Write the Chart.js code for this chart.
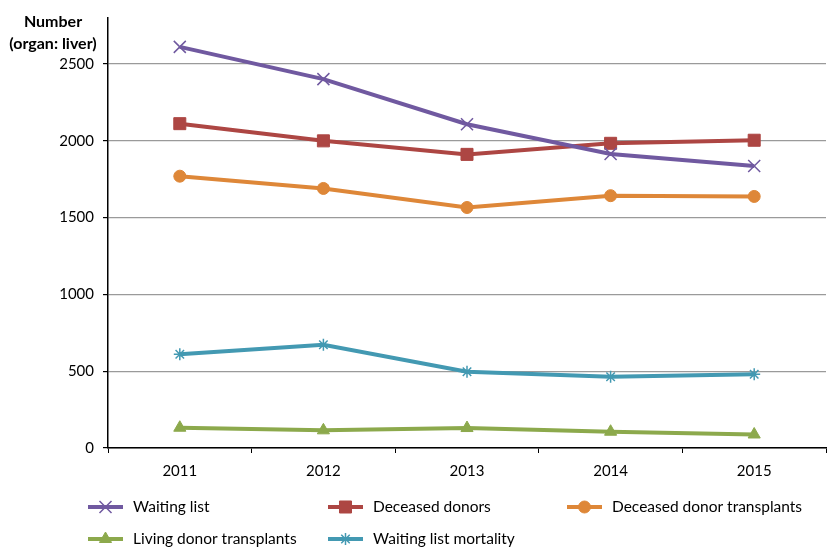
<!DOCTYPE html>
<html>
<head>
<meta charset="utf-8">
<script src="https://cdn.jsdelivr.net/npm/chart.js@4.4.0/dist/chart.umd.min.js"></script>
<style>
	html, body { margin: 0; padding: 0; background: #fff; overflow: hidden; }
	#wrap { width: 836px; height: 547px; }
</style>
</head>
<body>
<div id="wrap"><canvas id="line-chart"></canvas></div>
<script>
var years = ['2011', '2012', '2013', '2014', '2015'];
var yTicks = [0, 500, 1000, 1500, 2000, 2500];

var waitingList = [2612, 2402, 2108, 1915, 1836];
var deceasedDonors = [2112, 2000, 1912, 1984, 2004];
var deceasedTransplants = [1770, 1690, 1566, 1643, 1638];
var livingTransplants = [132, 115, 130, 106, 88];
var listMortality = [610, 672, 497, 464, 480];

var FONT = 'Lato, "Liberation Sans", sans-serif';

function series(label, data, color, style, radius) {
	return {
		label: label,
		data: data,
		borderColor: color,
		backgroundColor: color,
		borderWidth: 4,
		pointStyle: style,
		pointRadius: radius,
		pointHoverRadius: radius,
		pointBorderWidth: (style == 'crossRot' || style == 'star') ? 1.5 : 1,
		pointBorderColor: color,
		pointBackgroundColor: color,
		fill: false,
		tension: 0
	};
}

// legend laid out in a fixed grid under the axis, plus the y axis caption
var extras = {
	id: 'extras',
	afterDraw: function(chart) {
		var ctx = chart.ctx;
		var cols = [88, 328, 567];
		var rows = [507, 539];
		ctx.save();
		chart.data.datasets.forEach(function(ds, i) {
			var x = cols[i % 3];
			var y = rows[Math.floor(i / 3)];
			ctx.strokeStyle = ds.borderColor;
			ctx.fillStyle = ds.borderColor;
			ctx.lineWidth = 4;
			ctx.beginPath();
			ctx.moveTo(x, y);
			ctx.lineTo(x + 35, y);
			ctx.stroke();
			ctx.lineWidth = ds.pointBorderWidth;
			Chart.helpers.drawPoint(ctx, {
				pointStyle: ds.pointStyle,
				radius: ds.pointRadius,
				borderWidth: ds.pointBorderWidth,
				rotation: 0
			}, x + 17.5, y);
			ctx.fillStyle = '#000';
			ctx.font = '15.5px ' + FONT;
			ctx.textAlign = 'left';
			ctx.textBaseline = 'middle';
			ctx.fillText(ds.label, x + 45, y);
		});
		ctx.font = 'bold 16px ' + FONT;
		ctx.textAlign = 'center';
		ctx.fillStyle = '#000';
		ctx.fillText('Number', 53, 22);
		ctx.fillText('(organ: liver)', 53, 44);
		ctx.restore();
	}
};

new Chart(document.getElementById('line-chart'), {
	type: 'line',
	data: {
		labels: years,
		datasets: [
			series('Waiting list', waitingList, '#7059A0', 'crossRot', 8.5),
			series('Deceased donors', deceasedDonors, '#AD4643', 'rect', 8.5),
			series('Deceased donor transplants', deceasedTransplants, '#DE8738', 'circle', 6),
			series('Living donor transplants', livingTransplants, '#8CA94C', 'triangle', 7),
			series('Waiting list mortality', listMortality, '#4399B2', 'star', 6)
		]
	},
	options: {
		responsive: true,
		maintainAspectRatio: false,
		animation: false,
		layout: { padding: { top: 18, left: 0, right: 0, bottom: 0 } },
		plugins: {
			legend: { display: false },
			title: { display: false },
			tooltip: { enabled: false }
		},
		scales: {
			x: {
				offset: true,
				grid: {
					offset: true,
					drawOnChartArea: false,
					drawTicks: true,
					tickLength: 5,
					tickColor: '#000'
				},
				border: { color: '#000', width: 1.5 },
				ticks: {
					color: '#000',
					padding: 9,
					font: { family: FONT, size: 15 },
					maxRotation: 0
				},
				afterFit: function(scale) { scale.height = 99; }
			},
			y: {
				min: 0,
				max: 2800,
				afterBuildTicks: function(scale) {
					scale.ticks = yTicks.map(function(v) { return { value: v }; });
				},
				grid: {
					color: '#9a9a9a',
					lineWidth: 1.2,
					tickColor: '#000',
					tickLength: 5
				},
				border: { color: '#000', width: 1.5 },
				ticks: {
					color: '#000',
					padding: 9,
					font: { family: FONT, size: 15 },
					callback: function(v) { return String(v); }
				},
				afterFit: function(scale) { scale.width = 108; }
			}
		}
	},
	plugins: [extras]
});
</script>
</body>
</html>
